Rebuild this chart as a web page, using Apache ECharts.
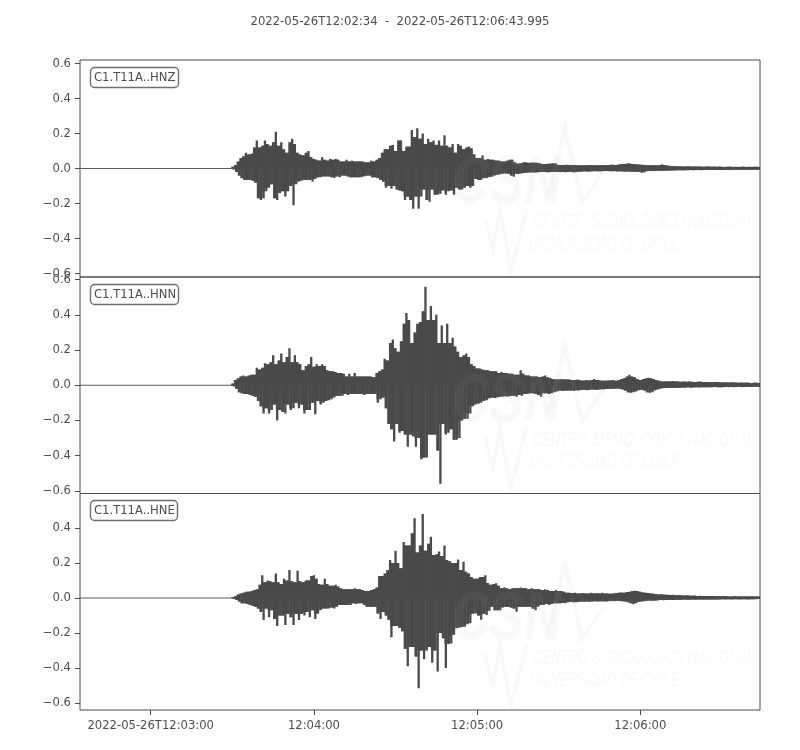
<!DOCTYPE html>
<html>
<head>
<meta charset="utf-8">
<style>html,body{margin:0;padding:0;background:#fff}#c{width:800px;height:750px}</style>
<script src="https://cdn.jsdelivr.net/npm/echarts@6/dist/echarts.min.js"></script>
</head>
<body>
<div id="c"></div>
<script>
const titleText = '2022-05-26T12:02:34  -  2022-05-26T12:06:43.995';
const channels = ['C1.T11A..HNZ', 'C1.T11A..HNN', 'C1.T11A..HNE'];
const xTickSeconds = [26, 86, 146, 206];
const xTickLabels = ['2022-05-26T12:03:00', '12:04:00', '12:05:00', '12:06:00'];
const yTicksFull = [-0.6, -0.4, -0.2, 0, 0.2, 0.4, 0.6];
const yTicksNoTop = [-0.6, -0.4, -0.2, 0, 0.2, 0.4];

// Quiet part of the records, before the first arrivals (seconds after 12:02:34)
const quietSeconds = [0, 56];
const quietValues = [0, 0];

// Per-second amplitude peaks, starting at second 56
const firstSecond = 56;
const zHigh = [
.01,.02,.04,.06,.07,.09,.08,.085,.12,.16,
.12,.13,.16,.14,.13,.15,.21,.13,.15,.11,
.09,.15,.17,.14,.09,.08,.075,.09,.10,.065,
.055,.05,.045,.065,.05,.045,.055,.05,.055,.05,
.04,.04,.05,.04,.045,.04,.04,.04,.04,.035,
.035,.045,.04,.05,.06,.09,.11,.11,.13,.135,
.10,.16,.16,.10,.125,.125,.22,.18,.23,.17,
.20,.14,.17,.15,.16,.135,.16,.13,.19,.13,
.12,.14,.09,.14,.13,.11,.12,.125,.115,.08,
.06,.06,.075,.05,.055,.05,.05,.045,.045,.04,
.04,.045,.05,.05,.035,.028,.03,.035,.035,.032,
.034,.033,.033,.03,.026,.025,.027,.028,.03,.028,
.02,.02,.02,.022,.02,.019,.02,.018,.02,.018,
.019,.019,.02,.018,.02,.018,.02,.019,.02,.021,
.022,.02,.023,.025,.026,.028,.03,.026,.025,.023,
.022,.021,.02,.018,.018,.02,.018,.019,.024,.02,
.017,.015,.013,.014,.012,.012,.011,.012,.013,.011,
.012,.011,.012,.01,.011,.012,.01,.011,.01,.011,
.01,.009,.01,.011,.009,.01,.009,.01,.011,.009,
.01,.009,.01,.01,.009];
const zLow = [
-.005,-.02,-.04,-.055,-.065,-.065,-.065,-.07,-.08,-.17,
-.18,-.17,-.13,-.11,-.09,-.17,-.18,-.14,-.13,-.16,
-.13,-.10,-.21,-.09,-.075,-.07,-.065,-.065,-.065,-.075,
-.06,-.05,-.05,-.045,-.045,-.045,-.05,-.055,-.045,-.05,
-.04,-.04,-.045,-.05,-.05,-.05,-.05,-.05,-.045,-.04,
-.04,-.05,-.05,-.055,-.065,-.075,-.11,-.10,-.115,-.10,
-.12,-.125,-.13,-.18,-.16,-.18,-.23,-.16,-.23,-.16,
-.12,-.18,-.19,-.12,-.15,-.15,-.145,-.125,-.15,-.13,
-.125,-.15,-.11,-.12,-.12,-.11,-.10,-.11,-.10,-.06,
-.065,-.065,-.055,-.055,-.05,-.047,-.04,-.037,-.033,-.03,
-.028,-.03,-.04,-.047,-.03,-.03,-.028,-.025,-.024,-.022,
-.022,-.023,-.022,-.02,-.02,-.021,-.022,-.02,-.02,-.019,
-.021,-.02,-.022,-.02,-.019,-.022,-.021,-.018,-.018,-.016,
-.017,-.018,-.016,-.015,-.016,-.016,-.015,-.014,-.015,-.016,
-.015,-.017,-.016,-.017,-.018,-.017,-.018,-.019,-.018,-.02,
-.024,-.022,-.016,-.014,-.015,-.014,-.013,-.014,-.012,-.012,
-.012,-.011,-.012,-.01,-.01,-.011,-.01,-.01,-.009,-.01,
-.009,-.009,-.01,-.009,-.008,-.009,-.008,-.009,-.008,-.009,
-.008,-.008,-.009,-.008,-.007,-.008,-.007,-.008,-.007,-.008,
-.007,-.007,-.008,-.007,-.007];
const nHigh = [
.01,.03,.04,.05,.055,.05,.055,.06,.06,.10,
.09,.10,.125,.12,.13,.17,.12,.14,.18,.13,
.16,.21,.13,.17,.13,.12,.085,.11,.12,.16,
.105,.12,.11,.12,.11,.085,.08,.08,.075,.07,
.07,.065,.05,.065,.05,.07,.05,.05,.05,.05,
.05,.05,.045,.07,.08,.09,.15,.14,.24,.26,
.21,.19,.25,.35,.41,.37,.24,.30,.35,.36,
.42,.56,.37,.45,.37,.40,.24,.34,.24,.35,
.24,.27,.22,.19,.16,.17,.18,.16,.12,.11,
.095,.095,.09,.085,.085,.08,.08,.08,.07,.075,
.07,.07,.065,.065,.06,.06,.085,.065,.055,.055,
.05,.05,.05,.047,.05,.055,.045,.04,.035,.033,
.033,.035,.033,.033,.032,.03,.03,.033,.028,.026,
.03,.027,.03,.035,.03,.028,.025,.025,.027,.027,
.03,.025,.03,.035,.04,.05,.06,.05,.045,.035,
.03,.035,.04,.042,.04,.035,.03,.025,.022,.022,
.023,.022,.024,.022,.021,.02,.022,.02,.021,.02,
.019,.02,.021,.018,.019,.018,.017,.018,.019,.017,
.016,.017,.015,.016,.017,.015,.014,.016,.014,.015,
.014,.013,.015,.014,.013];
const nLow = [
-.005,-.02,-.04,-.045,-.05,-.05,-.055,-.06,-.065,-.09,
-.12,-.16,-.13,-.16,-.14,-.11,-.20,-.14,-.15,-.16,
-.11,-.14,-.13,-.10,-.13,-.11,-.16,-.14,-.14,-.10,
-.165,-.09,-.11,-.10,-.09,-.085,-.08,-.07,-.06,-.06,
-.06,-.05,-.055,-.05,-.05,-.05,-.05,-.05,-.055,-.05,
-.05,-.05,-.05,-.10,-.08,-.07,-.13,-.22,-.25,-.32,
-.22,-.27,-.26,-.28,-.35,-.28,-.29,-.35,-.30,-.42,
-.41,-.41,-.28,-.28,-.28,-.37,-.56,-.22,-.28,-.27,
-.25,-.31,-.31,-.30,-.20,-.19,-.19,-.16,-.12,-.11,
-.105,-.10,-.09,-.085,-.075,-.07,-.072,-.07,-.065,-.064,
-.062,-.065,-.06,-.06,-.065,-.055,-.06,-.05,-.05,-.045,
-.045,-.05,-.055,-.066,-.045,-.045,-.05,-.045,-.04,-.035,
-.03,-.033,-.03,-.03,-.03,-.032,-.028,-.03,-.027,-.026,
-.028,-.025,-.024,-.026,-.025,-.023,-.024,-.022,-.02,-.022,
-.02,-.018,-.02,-.024,-.03,-.04,-.042,-.04,-.036,-.028,
-.025,-.03,-.04,-.042,-.04,-.03,-.024,-.02,-.017,-.016,
-.015,-.016,-.014,-.015,-.014,-.013,-.014,-.012,-.014,-.013,
-.012,-.013,-.012,-.011,-.012,-.011,-.012,-.01,-.011,-.012,
-.011,-.01,-.011,-.01,-.011,-.01,-.009,-.011,-.01,-.009,
-.01,-.01,-.009,-.01,-.009];
const eHigh = [
.005,.01,.02,.025,.03,.035,.035,.04,.045,.05,
.075,.13,.09,.10,.095,.09,.14,.09,.08,.11,
.10,.16,.095,.09,.155,.095,.09,.10,.10,.125,
.13,.11,.08,.075,.11,.08,.07,.07,.075,.065,
.055,.05,.05,.05,.05,.055,.05,.05,.045,.04,
.04,.045,.05,.06,.126,.126,.14,.16,.217,.20,
.27,.20,.17,.32,.30,.30,.37,.455,.26,.30,
.48,.27,.31,.35,.245,.25,.265,.24,.30,.217,
.21,.20,.20,.22,.16,.207,.15,.14,.12,.11,
.11,.12,.12,.13,.085,.075,.08,.084,.07,.055,
.06,.055,.05,.055,.055,.055,.06,.056,.055,.05,
.055,.05,.05,.05,.045,.05,.045,.04,.04,.045,
.04,.04,.035,.03,.03,.028,.03,.025,.026,.028,
.025,.026,.03,.025,.027,.025,.03,.026,.025,.024,
.025,.028,.03,.032,.03,.034,.036,.04,.042,.04,
.035,.032,.03,.028,.026,.024,.022,.02,.021,.019,
.018,.017,.019,.016,.017,.015,.014,.015,.014,.013,
.014,.012,.013,.012,.011,.012,.011,.012,.01,.011,
.01,.011,.01,.009,.01,.011,.009,.01,.009,.01,
.009,.01,.009,.01,.009];
const eLow = [
-.005,-.012,-.02,-.03,-.03,-.035,-.04,-.045,-.05,-.06,
-.08,-.126,-.06,-.11,-.07,-.12,-.16,-.10,-.10,-.155,
-.09,-.11,-.155,-.09,-.126,-.09,-.10,-.08,-.11,-.07,
-.12,-.09,-.07,-.06,-.06,-.06,-.055,-.06,-.05,-.04,
-.04,-.04,-.04,-.04,-.03,-.035,-.03,-.03,-.04,-.05,
-.05,-.05,-.05,-.088,-.12,-.08,-.10,-.125,-.225,-.16,
-.16,-.17,-.19,-.29,-.39,-.28,-.28,-.335,-.516,-.30,
-.35,-.30,-.28,-.37,-.30,-.42,-.20,-.23,-.40,-.263,
-.26,-.21,-.173,-.17,-.164,-.164,-.15,-.145,-.09,-.087,
-.10,-.125,-.09,-.097,-.075,-.05,-.07,-.07,-.07,-.055,
-.05,-.05,-.055,-.06,-.078,-.05,-.05,-.05,-.05,-.05,
-.06,-.07,-.05,-.04,-.04,-.035,-.04,-.035,-.03,-.03,
-.032,-.028,-.03,-.025,-.022,-.024,-.025,-.022,-.02,-.022,
-.02,-.022,-.02,-.018,-.02,-.019,-.018,-.02,-.018,-.017,
-.018,-.016,-.017,-.018,-.02,-.025,-.03,-.036,-.03,-.022,
-.02,-.018,-.016,-.015,-.016,-.014,-.014,-.012,-.013,-.011,
-.012,-.011,-.012,-.01,-.011,-.01,-.009,-.01,-.01,-.009,
-.01,-.009,-.008,-.009,-.008,-.009,-.008,-.008,-.009,-.008,
-.007,-.008,-.007,-.008,-.007,-.007,-.008,-.007,-.007,-.008,
-.007,-.007,-.007,-.006,-.007];

const xMax = 249.995;
const ink = '#4a4a4a', axisInk = '#4d4d4d';
const font = '"DejaVu Sans"';

const grids = [
  {left: 80, width: 680, top: 60, height: 217},
  {left: 80, width: 680, top: 277, height: 216.5},
  {left: 80, width: 680, top: 493.5, height: 216.5}
].map(g => Object.assign(g, {show: true, borderColor: axisInk, borderWidth: 1, backgroundColor: 'transparent', containLabel: false}));

const yRanges = [[-0.62, 0.62], [-0.615, 0.615], [-0.64, 0.597]];
const yTickSets = [yTicksFull, yTicksFull, yTicksNoTop];

const xAxes = [0, 1, 2].map(i => ({
  type: 'value', gridIndex: i, position: 'bottom', min: 0, max: xMax, splitLine: {show: false},
  axisLine: {show: false, onZero: false},
  axisTick: {show: i === 2, customValues: xTickSeconds, length: 5, lineStyle: {color: axisInk, width: 1}},
  axisLabel: {show: i === 2, customValues: xTickSeconds, color: axisInk, fontFamily: font, fontSize: 11.6, margin: 10,
    formatter: v => xTickLabels[xTickSeconds.indexOf(v)] || ''}
}));
const yAxes = [0, 1, 2].map(i => ({
  type: 'value', gridIndex: i, position: 'left', min: yRanges[i][0], max: yRanges[i][1], splitLine: {show: false},
  axisLine: {show: false, onZero: false},
  axisTick: {show: true, customValues: yTickSets[i], length: 5, lineStyle: {color: axisInk, width: 1}},
  axisLabel: {show: true, customValues: yTickSets[i], color: axisInk, fontFamily: font, fontSize: 11.6, margin: 9,
    padding: [2, 0, 0, 0],
    formatter: v => (v < 0 ? '\u2212' : '') + Math.abs(v).toFixed(1)}
}));

const labelTops = [67, 284, 500];
const titles = [{text: titleText, left: 400, top: 15.5, textAlign: 'center',
  textStyle: {color: axisInk, fontFamily: font, fontSize: 11.65, fontWeight: 'normal'}, padding: 0}]
  .concat(channels.map((c, i) => ({
    text: c, left: 90, top: labelTops[i], padding: [5, 3, 4, 4],
    borderColor: '#6e6e6e', borderWidth: 1.4, borderRadius: 4, backgroundColor: '#fff',
    textStyle: {color: axisInk, fontFamily: font, fontSize: 11.6, fontWeight: 'normal'}
  })));

// Faint institutional watermark repeated over each panel
const wm = 'rgba(170,170,170,0.07)';
const wmText = 'rgba(170,170,170,0.07)';
const offsets = [0, 218, 436];
const graphics = [];
offsets.forEach(dy => {
  graphics.push(
    {type: 'text', z: 100, silent: true, x: 452, y: 150 + dy, scaleX: 0.76, style: {text: 'CSN', fill: wm, font: 'italic bold 68px "Liberation Sans"'}},
    {type: 'polyline', z: 100, silent: true, shape: {points: [[548, 195 + dy], [565, 128 + dy], [582, 203 + dy], [603, 172 + dy]]}, style: {stroke: wm, fill: 'none', lineWidth: 4}},
    {type: 'polyline', z: 100, silent: true, shape: {points: [[485, 218 + dy], [493, 250 + dy], [500, 210 + dy], [511, 270 + dy], [527, 208 + dy]]}, style: {stroke: wm, fill: 'none', lineWidth: 3.5}},
    {type: 'text', z: 100, silent: true, x: 533, y: 212 + dy, scaleX: 0.62, style: {text: 'CENTRO SISMOLÓGICO NACIONAL', fill: wmText, font: 'italic 21px "Liberation Sans"'}},
    {type: 'text', z: 100, silent: true, x: 529, y: 234 + dy, scaleX: 0.61, style: {text: 'UNIVERSIDAD DE CHILE', fill: wmText, font: 'italic 21px "Liberation Sans"'}}
  );
});

// One mark per second: a solid body shared with the next second plus an up and a down stick
function rows(high, low) {
  return high.map((h, i) => {
    const t = firstSecond + i;
    const nextH = i + 1 < high.length ? high[i + 1] : h;
    const nextL = i + 1 < low.length ? low[i + 1] : low[i];
    return [t, h, low[i], Math.min(h, nextH), Math.max(low[i], nextL)];
  });
}
function renderColumn(params, api) {
  const t = api.value(0), hi = api.value(1), lo = api.value(2), bodyHi = api.value(3), bodyLo = api.value(4);
  const zero = api.coord([t, 0]);
  const x0 = zero[0], x1 = api.coord([t + 1, 0])[0], xm = api.coord([t + 0.5, 0])[0];
  const yHi = api.coord([t, hi])[1], yLo = api.coord([t, lo])[1];
  const yBodyHi = api.coord([t, bodyHi])[1], yBodyLo = api.coord([t, bodyLo])[1];
  const sw = 2.3;
  const style = {fill: ink};
  const cs = params.coordSys;
  const clip = s => echarts.graphic.clipRectByRect(s, {x: cs.x, y: cs.y, width: cs.width, height: cs.height});
  const kids = [
    {x: x0, y: yBodyHi, width: x1 - x0 + 0.3, height: yBodyLo - yBodyHi},
    {x: x0 - sw / 2, y: yHi, width: sw, height: zero[1] - yHi},
    {x: xm - sw / 2, y: zero[1], width: sw, height: yLo - zero[1]}
  ].map(clip).filter(Boolean).map(shape => ({type: 'rect', shape, style}));
  return {type: 'group', children: kids};
}
const channelRows = [rows(zHigh, zLow), rows(nHigh, nLow), rows(eHigh, eLow)];

const series = [];
channelRows.forEach((data, i) => {
  series.push({type: 'line', xAxisIndex: i, yAxisIndex: i, data: quietSeconds.map((t, k) => [t, quietValues[k]]),
    showSymbol: false, symbol: 'none', lineStyle: {color: ink, width: 1.2, opacity: 0.9}, silent: true});
  series.push({type: 'custom', xAxisIndex: i, yAxisIndex: i, data, renderItem: renderColumn, silent: true,
    encode: {x: 0, y: [1, 2]}, clip: true});
});

const chart = echarts.init(document.getElementById('c'), null, {renderer: 'canvas'});
chart.setOption({
  animation: false,
  backgroundColor: '#fff',
  title: titles,
  grid: grids,
  xAxis: xAxes,
  yAxis: yAxes,
  graphic: {elements: graphics},
  series
});
</script>
</body>
</html>
